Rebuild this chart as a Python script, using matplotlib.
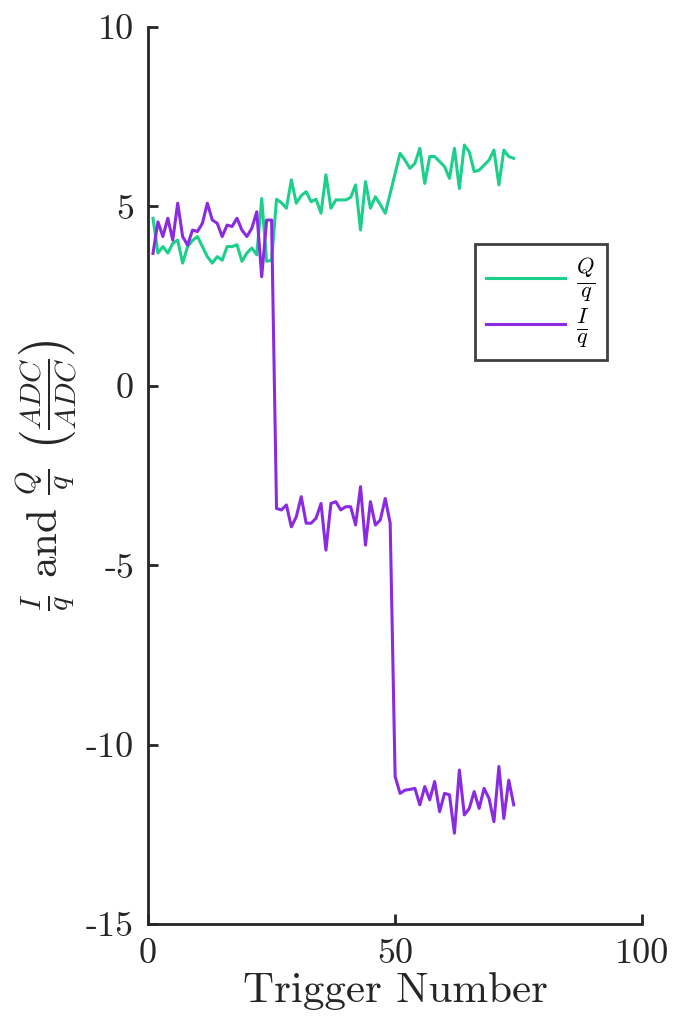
import matplotlib.pyplot as plt
import numpy as np

plt.rcParams['font.family'] = 'cmr10'
plt.rcParams['mathtext.fontset'] = 'cm'
plt.rcParams['axes.unicode_minus'] = False

# trigger numbers 1..74
trigger = np.arange(1, 75)

# Q/q per trigger
q_vals = [4.67, 3.70, 3.88, 3.70, 3.97, 4.06, 3.42, 3.88, 4.05, 4.16,
          3.88, 3.60, 3.42, 3.60, 3.50, 3.88, 3.88, 3.93, 3.47, 3.70,
          3.84, 3.65, 5.22, 3.47, 3.50, 5.20, 5.10, 4.95, 5.74, 5.09,
          5.30, 5.41, 5.13, 5.20, 4.81, 5.88, 4.95, 5.18, 5.18, 5.18,
          5.25, 5.60, 4.34, 5.69, 4.95, 5.27, 5.05, 4.81, 5.36, 5.92,
          6.48, 6.29, 6.06, 6.20, 6.62, 5.64, 6.39, 6.39, 6.25, 6.11,
          5.78, 6.62, 5.50, 6.71, 6.52, 5.97, 6.01, 6.15, 6.29, 6.57,
          5.60, 6.57, 6.39, 6.34]

# I/q per trigger
i_vals = [3.69, 4.57, 4.16, 4.67, 4.06, 5.09, 4.16, 3.92, 4.34, 4.30,
          4.53, 5.09, 4.62, 4.53, 4.16, 4.48, 4.44, 4.67, 4.34, 4.16,
          4.39, 4.85, 3.04, 4.62, 4.62, -3.42, -3.46, -3.32, -3.93, -3.65,
          -3.09, -3.83, -3.83, -3.69, -3.28, -4.58, -3.28, -3.23, -3.46, -3.37,
          -3.37, -3.88, -2.81, -4.44, -3.23, -3.88, -3.74, -3.14, -3.83, -10.89,
          -11.36, -11.27, -11.25, -11.22, -11.68, -11.17, -11.54, -11.03, -11.87, -11.36,
          -11.40, -12.47, -10.71, -11.96, -11.78, -11.31, -11.78, -11.22, -11.50, -12.15,
          -10.61, -12.06, -10.99, -11.68]

fig = plt.figure(figsize=(6.76, 10.31), dpi=100)
ax = fig.add_axes([0.219, 0.1038, 0.731, 0.870])

ax.plot(trigger, q_vals, color='#1ccf8a', linewidth=2.2, label=r'$\frac{Q}{q}$')
ax.plot(trigger, i_vals, color='#8a2be2', linewidth=2.2, label=r'$\frac{I}{q}$')

ax.set_xlim(0, 100)
ax.set_ylim(-15, 10)
ax.set_xticks([0, 50, 100])
ax.set_yticks([-15, -10, -5, 0, 5, 10])

for s in ['top', 'right']:
    ax.spines[s].set_visible(False)
for s in ['left', 'bottom']:
    ax.spines[s].set_linewidth(2.0)
    ax.spines[s].set_color('#262626')
ax.tick_params(direction='in', length=7, width=2.0, colors='#262626',
               labelsize=26, pad=10)

ax.set_xlabel('Trigger Number', fontsize=31, color='#262626', labelpad=2)
ax.set_ylabel(r'$\frac{I}{q}$ and $\frac{Q}{q}$ $\left(\frac{ADC}{ADC}\right)$',
              fontsize=31, color='#262626', labelpad=4)

leg = ax.legend(loc='upper left', bbox_to_anchor=(0.662, 0.758), fontsize=23,
                handlelength=2.45, fancybox=False, framealpha=1,
                borderaxespad=0, borderpad=0.35, labelspacing=0.1,
                handletextpad=0.35)
leg.get_frame().set_edgecolor('#404040')
leg.get_frame().set_linewidth(2.0)

fig.savefig('out.png', dpi=100)
